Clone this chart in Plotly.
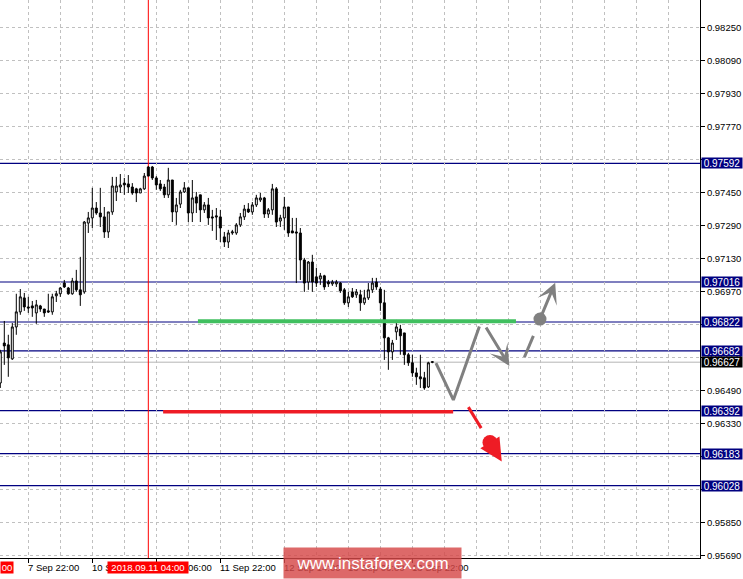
import plotly.graph_objects as go

# ------------------------------------------
# DATA (H1 candles)
# ------------------------------------------
OPEN = [0.96526, 0.96720, 0.96711, 0.96643, 0.96798, 0.96871, 0.96939, 0.96895, 0.96900, 0.96866,
        0.96900, 0.96885, 0.96876, 0.96871, 0.96949, 0.96959, 0.97011, 0.96987, 0.96959, 0.97021,
        0.96978, 0.96968, 0.97302, 0.97327, 0.97375, 0.97351, 0.97332, 0.97259, 0.97356, 0.97453,
        0.97477, 0.97496, 0.97492, 0.97477, 0.97468, 0.97448, 0.97468, 0.97574, 0.97574, 0.97521,
        0.97492, 0.97477, 0.97439, 0.97511, 0.97356, 0.97394, 0.97453, 0.97473, 0.97351, 0.97429,
        0.97439, 0.97366, 0.97390, 0.97332, 0.97337, 0.97332, 0.97235, 0.97210, 0.97254, 0.97254,
        0.97293, 0.97332, 0.97370, 0.97356, 0.97390, 0.97414, 0.97424, 0.97346, 0.97366, 0.97468,
        0.97312, 0.97327, 0.97380, 0.97264, 0.97259, 0.97254, 0.97123, 0.97016, 0.97113, 0.97041,
        0.97031, 0.97046, 0.97016, 0.97007, 0.97007, 0.97011, 0.96978, 0.96915, 0.96968, 0.96954,
        0.96954, 0.96915, 0.96939, 0.96978, 0.97016, 0.96982, 0.96915, 0.96745, 0.96677, 0.96774,
        0.96788, 0.96769, 0.96663, 0.96624, 0.96575, 0.96556, 0.96551, 0.96507, 0.96629]
HIGH = [0.96687, 0.96827, 0.96760, 0.96817, 0.96959, 0.96982, 0.96963, 0.96944, 0.96924, 0.96929,
        0.96905, 0.96885, 0.96959, 0.96959, 0.96973, 0.96992, 0.97026, 0.96992, 0.97036, 0.97075,
        0.97138, 0.97312, 0.97356, 0.97473, 0.97404, 0.97473, 0.97380, 0.97356, 0.97526, 0.97526,
        0.97540, 0.97521, 0.97535, 0.97496, 0.97473, 0.97473, 0.97545, 0.97579, 0.97579, 0.97530,
        0.97511, 0.97492, 0.97570, 0.97511, 0.97424, 0.97463, 0.97501, 0.97473, 0.97511, 0.97453,
        0.97439, 0.97404, 0.97424, 0.97366, 0.97375, 0.97366, 0.97259, 0.97269, 0.97269, 0.97302,
        0.97351, 0.97390, 0.97399, 0.97404, 0.97439, 0.97448, 0.97429, 0.97375, 0.97492, 0.97477,
        0.97342, 0.97429, 0.97380, 0.97327, 0.97327, 0.97278, 0.97133, 0.97118, 0.97148, 0.97085,
        0.97060, 0.97051, 0.97026, 0.97026, 0.97026, 0.97016, 0.96987, 0.96968, 0.96987, 0.96982,
        0.96978, 0.96978, 0.97011, 0.97036, 0.97036, 0.96992, 0.96978, 0.96750, 0.96735, 0.96832,
        0.96808, 0.96769, 0.96672, 0.96663, 0.96600, 0.96663, 0.96580, 0.96629, 0.96632]
LOW = [0.96502, 0.96614, 0.96556, 0.96638, 0.96760, 0.96857, 0.96876, 0.96866, 0.96847, 0.96813,
       0.96871, 0.96847, 0.96866, 0.96857, 0.96919, 0.96944, 0.96987, 0.96954, 0.96954, 0.96968,
       0.96900, 0.96959, 0.97254, 0.97278, 0.97342, 0.97283, 0.97230, 0.97230, 0.97342, 0.97409,
       0.97448, 0.97439, 0.97448, 0.97439, 0.97404, 0.97448, 0.97463, 0.97530, 0.97511, 0.97463,
       0.97458, 0.97424, 0.97424, 0.97307, 0.97293, 0.97375, 0.97448, 0.97307, 0.97307, 0.97351,
       0.97307, 0.97351, 0.97293, 0.97264, 0.97220, 0.97210, 0.97186, 0.97181, 0.97245, 0.97245,
       0.97283, 0.97317, 0.97351, 0.97342, 0.97380, 0.97404, 0.97327, 0.97327, 0.97342, 0.97283,
       0.97283, 0.97269, 0.97235, 0.97254, 0.97011, 0.97026, 0.96968, 0.96978, 0.96968, 0.96992,
       0.97002, 0.96978, 0.96992, 0.96997, 0.96992, 0.96963, 0.96905, 0.96895, 0.96939, 0.96939,
       0.96876, 0.96905, 0.96929, 0.96963, 0.96978, 0.96876, 0.96638, 0.96590, 0.96638, 0.96735,
       0.96663, 0.96614, 0.96609, 0.96556, 0.96517, 0.96502, 0.96493, 0.96502, 0.96622]
CLOSE = [0.96677, 0.96706, 0.96648, 0.96798, 0.96871, 0.96944, 0.96895, 0.96890, 0.96890, 0.96905,
         0.96885, 0.96866, 0.96871, 0.96944, 0.96959, 0.96987, 0.96992, 0.96959, 0.97021, 0.96978,
         0.96954, 0.97307, 0.97327, 0.97375, 0.97351, 0.97332, 0.97259, 0.97356, 0.97482, 0.97482,
         0.97487, 0.97487, 0.97477, 0.97448, 0.97448, 0.97468, 0.97530, 0.97530, 0.97521, 0.97487,
         0.97468, 0.97439, 0.97511, 0.97356, 0.97390, 0.97453, 0.97473, 0.97351, 0.97424, 0.97399,
         0.97366, 0.97390, 0.97327, 0.97327, 0.97332, 0.97278, 0.97210, 0.97254, 0.97259, 0.97293,
         0.97332, 0.97370, 0.97356, 0.97390, 0.97424, 0.97424, 0.97346, 0.97366, 0.97468, 0.97307,
         0.97327, 0.97380, 0.97254, 0.97254, 0.97254, 0.97123, 0.97011, 0.97113, 0.97016, 0.97011,
         0.97046, 0.96992, 0.97007, 0.97016, 0.97016, 0.96973, 0.96915, 0.96944, 0.96944, 0.96968,
         0.96915, 0.96939, 0.96978, 0.97011, 0.96992, 0.96915, 0.96745, 0.96677, 0.96720, 0.96798,
         0.96755, 0.96663, 0.96624, 0.96575, 0.96556, 0.96546, 0.96502, 0.96624, 0.96627]

# time axis: bar index of each labelled hour
LABEL_BARS = [7, 23, 39, 55, 71, 87, 103]
TIME_LABELS = ["7 Sep 22:00", "10 Sep 14:00", "11 Sep 06:00", "11 Sep 22:00",
               "12 Sep 14:00", "13 Sep 06:00", "13 Sep 22:00"]
MARK_BAR, MARK_LABEL = 37, "2018.09.11 04:00"

# price scale
Y_TICKS = [0.95690, 0.95850, 0.96010, 0.96170, 0.96330, 0.96490, 0.96650, 0.96810,
           0.96970, 0.97130, 0.97290, 0.97450, 0.97610, 0.97770, 0.97930, 0.98090, 0.98250]

# support / resistance levels
LEVELS = [0.97592, 0.97016, 0.96822, 0.96682, 0.96392, 0.96183, 0.96028]
CURRENT = 0.96627

# drawn zones and forecast path (bar index, price)
GREEN_X, GREEN_Y = [49.4, 128.9], 0.96825
RED_X, RED_Y = [40.7, 113.2], 0.96386
PATH_X = [108.9, 113.25, 119.75]
PATH_Y = [0.96622, 0.96444, 0.96800]
DOWN_ARROW = [(121.2, 0.96803), (127.25, 0.96609)]
DASH_X, DASH_Y = [131.0, 133.25], [0.96651, 0.96755]
UP_BALL = (134.9, 0.96836)
UP_TIP = (138.7, 0.97013)
RED_LINE_X, RED_LINE_Y = [117.0, 120.2], [0.96409, 0.96307]
RED_BALL = (122.4, 0.96237)
RED_TIP = (125.35, 0.96145)

# ------------------------------------------
# STYLE
# ------------------------------------------
FONT = "Liberation Sans"
NAVY = "#000080"
GRID = "#c0c0c0"
GRAY = "#808080"
RED = "#ff0000"
DRAW_RED = "#ee1c25"

Y_RANGE = [0.956768, 0.983844]
X_RANGE = [-0.075, 174.9]

fig = go.Figure()

fig.add_trace(go.Candlestick(
    x=list(range(len(OPEN))), open=OPEN, high=HIGH, low=LOW, close=CLOSE,
    increasing=dict(line=dict(color="black", width=1), fillcolor="white"),
    decreasing=dict(line=dict(color="black", width=1), fillcolor="black"),
    whiskerwidth=0, hoverinfo="skip", showlegend=False
))

# forecast path (gray)
fig.add_trace(go.Scatter(x=PATH_X, y=PATH_Y, mode="lines",
                         line=dict(color=GRAY, width=3), hoverinfo="skip", showlegend=False))
fig.add_trace(go.Scatter(x=DASH_X, y=DASH_Y, mode="lines",
                         line=dict(color=GRAY, width=3), hoverinfo="skip", showlegend=False))
fig.add_trace(go.Scatter(x=[UP_BALL[0]], y=[UP_BALL[1]], mode="markers",
                         marker=dict(color=GRAY, size=13), hoverinfo="skip", showlegend=False))
# red break-down
fig.add_trace(go.Scatter(x=RED_LINE_X, y=RED_LINE_Y, mode="lines",
                         line=dict(color=DRAW_RED, width=3), hoverinfo="skip", showlegend=False))
fig.add_trace(go.Scatter(x=[RED_BALL[0]], y=[RED_BALL[1]], mode="markers",
                         marker=dict(color=DRAW_RED, size=15), hoverinfo="skip", showlegend=False))

shapes = []
for lv in LEVELS:
    shapes.append(dict(type="line", xref="paper", x0=0, x1=1, yref="y", y0=lv, y1=lv,
                       line=dict(color=NAVY, width=1.2), layer="below"))
shapes.append(dict(type="line", xref="paper", x0=0, x1=1, yref="y", y0=CURRENT, y1=CURRENT,
                   line=dict(color="#b4b4b4", width=1), layer="below"))
shapes.append(dict(type="line", xref="x", x0=MARK_BAR, x1=MARK_BAR, yref="paper", y0=0, y1=1,
                   line=dict(color=RED, width=1), layer="below"))
shapes.append(dict(type="line", xref="x", x0=GREEN_X[0], x1=GREEN_X[1], yref="y", y0=GREEN_Y, y1=GREEN_Y,
                   line=dict(color="#40bf5f", width=4)))
shapes.append(dict(type="line", xref="x", x0=RED_X[0], x1=RED_X[1], yref="y", y0=RED_Y, y1=RED_Y,
                   line=dict(color=DRAW_RED, width=3.5)))

annotations = []
# arrows
annotations.append(dict(x=DOWN_ARROW[1][0], y=DOWN_ARROW[1][1], ax=DOWN_ARROW[0][0], ay=DOWN_ARROW[0][1],
                        xref="x", yref="y", axref="x", ayref="y", text="", showarrow=True,
                        arrowhead=3, arrowsize=1.15, arrowwidth=3, arrowcolor=GRAY))
annotations.append(dict(x=UP_TIP[0], y=UP_TIP[1], ax=UP_BALL[0], ay=UP_BALL[1],
                        xref="x", yref="y", axref="x", ayref="y", text="", showarrow=True,
                        arrowhead=3, arrowsize=1.15, arrowwidth=3, arrowcolor=GRAY))
annotations.append(dict(x=RED_TIP[0], y=RED_TIP[1], ax=RED_BALL[0], ay=RED_BALL[1],
                        xref="x", yref="y", axref="x", ayref="y", text="", showarrow=True,
                        arrowhead=2, arrowsize=1.0, arrowwidth=4.5, arrowcolor=DRAW_RED))

# time labels (left aligned at tick, like the terminal)
for b, t in zip(LABEL_BARS, TIME_LABELS):
    annotations.append(dict(x=b, xref="x", y=-0.004, yref="paper", xanchor="left", yanchor="top",
                            text=t, showarrow=False, xshift=-2,
                            font=dict(family=FONT, size=9.5, color="black")))

# price boxes on the right scale
for lv in LEVELS:
    annotations.append(dict(x=1.002, xref="paper", y=lv, yref="y", xanchor="left", yanchor="middle",
                            text=f"{lv:.5f}", showarrow=False, bgcolor=NAVY, width=40, height=10,
                            borderpad=0, font=dict(family=FONT, size=10, color="white")))
annotations.append(dict(x=1.002, xref="paper", y=CURRENT, yref="y", xanchor="left", yanchor="middle",
                        text=f"{CURRENT:.5f}", showarrow=False, bgcolor="black", width=40, height=10,
                        borderpad=0, font=dict(family=FONT, size=10, color="white")))

# red vertical line labels
annotations.append(dict(x=MARK_BAR, xref="x", y=-0.006, yref="paper", xanchor="center", yanchor="top",
                        text=MARK_LABEL, showarrow=False, bgcolor=RED, width=80, height=11, borderpad=0,
                        font=dict(family=FONT, size=9.5, color="white")))
annotations.append(dict(x=0, xref="paper", y=-0.006, yref="paper", xanchor="left", yanchor="top",
                        text="00", showarrow=False, bgcolor=RED, width=12, height=11, borderpad=0,
                        font=dict(family=FONT, size=9.5, color="white")))

# watermark
annotations.append(dict(x=283 / 700, xref="paper", y=1 - 547 / 558, yref="paper",
                        xanchor="left", yanchor="top", text="www.instaforex.com", showarrow=False,
                        bgcolor="rgba(214,72,72,0.82)", width=177, height=30, borderpad=0,
                        font=dict(family=FONT, size=17, color="white")))

# tick labels hidden under the level boxes stay blank
tick_text = []
for t in Y_TICKS:
    covered = any(abs(t - lv) < 0.00022 for lv in LEVELS + [CURRENT])
    tick_text.append("" if covered else f"{t:.5f}")

fig.update_layout(
    width=743, height=579,
    margin=dict(l=0, r=43, t=0, b=21),
    paper_bgcolor="white", plot_bgcolor="white",
    font=dict(family=FONT, size=9.5, color="black"),
    showlegend=False,
    dragmode=False,
    shapes=shapes,
    annotations=annotations,
    xaxis=dict(
        range=X_RANGE, rangeslider=dict(visible=False),
        tickmode="array", tickvals=LABEL_BARS, showticklabels=False,
        ticks="outside", ticklen=4, tickcolor="black",
        showgrid=True, gridcolor=GRID, griddash="3px,3px", gridwidth=1,
        minor=dict(tick0=7, dtick=8, showgrid=True, gridcolor=GRID, griddash="3px,3px", ticks=""),
        showline=True, linecolor="black", linewidth=1, zeroline=False, fixedrange=True,
    ),
    yaxis=dict(
        range=Y_RANGE, side="right",
        tickmode="array", tickvals=Y_TICKS, ticktext=tick_text,
        ticks="outside", ticklen=4, tickcolor="black",
        tickfont=dict(family=FONT, size=9.5, color="black"),
        showgrid=True, gridcolor=GRID, griddash="3px,3px", gridwidth=1,
        showline=True, linecolor="black", linewidth=1, zeroline=False, fixedrange=True,
    ),
)

fig.write_html("out.html", config={"displayModeBar": False},
               post_script="document.body.style.margin='0';document.body.style.overflow='hidden';")
